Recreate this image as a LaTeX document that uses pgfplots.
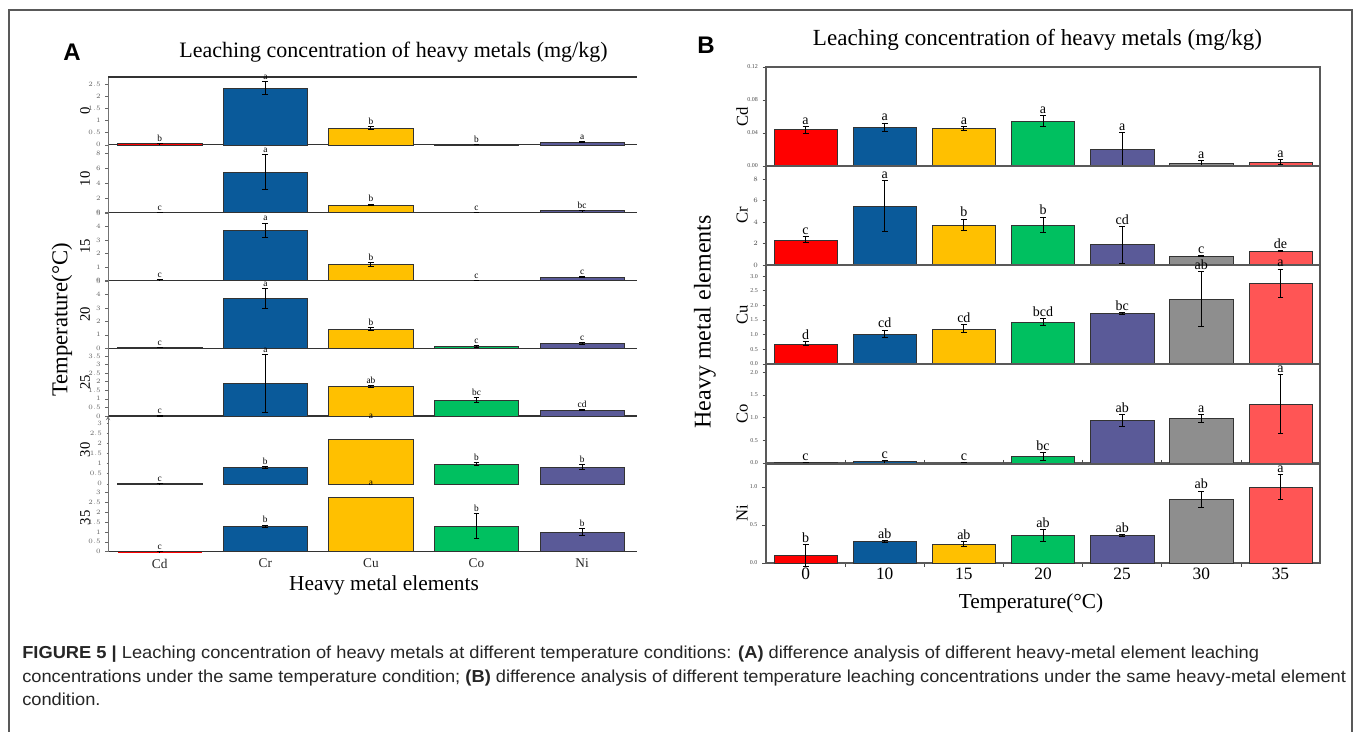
\documentclass[border=0pt]{standalone}
\usepackage{pgfplots}
\pgfplotsset{compat=1.18}
\usepackage{fontspec}
\setmainfont{Liberation Serif}
\newfontfamily\capfont[FakeStretch=1.055]{Liberation Sans}
\newfontfamily\lblfont{Liberation Sans}
\definecolor{cR}{HTML}{FF0000}
\definecolor{cB}{HTML}{0A5A9A}
\definecolor{cY}{HTML}{FFC000}
\definecolor{cG}{HTML}{00C060}
\definecolor{cP}{HTML}{5A5A98}
\definecolor{cGr}{HTML}{8E8E8E}
\definecolor{cLR}{HTML}{FF5555}
\def\letfont{\fontsize{10}{10}\selectfont}
% bar with error bar and letter: colour, x, y, error, letter
\newcommand{\bb}[5]{%
\addplot[ybar, bar shift=0pt, bar width=0.8, fill=#1, draw=black!80, line width=0.4pt, forget plot,
  error bars/.cd, y dir=both, y explicit, error bar style={line width=0.7pt, black},
  error mark options={rotate=90, line width=0.7pt, mark size=2.2pt, black}] coordinates {(#2,#3) +- (0,#4)};
\node[anchor=south, inner sep=1.3pt, font=\letfont] at (axis cs:#2,{#3+#4}) {#5};}
% bar without visible error bar: colour, x, y, letter height, letter
\newcommand{\bn}[5]{%
\addplot[ybar, bar shift=0pt, bar width=0.8, fill=#1, draw=black!80, line width=0.4pt, forget plot] coordinates {(#2,#3)};
\node[anchor=south, inner sep=1.3pt, font=\letfont] at (axis cs:#2,#4) {#5};}
\pgfplotsset{
 Bsub/.style={scale only axis, width=415.5pt, height=74.25pt, xmin=-0.5, xmax=6.5, ymin=0,
   anchor=south west, axis line style={black!65, line width=0.9pt}, xtick=\empty,
   tick align=outside, ytick pos=left, major tick length=2.5pt,
   tick style={black!70, line width=0.5pt},
   yticklabel style={font=\fontsize{4.5}{5}\selectfont, text=black!70},
   ylabel style={at={(axis description cs:-0.043,0.5)}, anchor=center, font=\fontsize{12.5}{13}\selectfont},
   clip=false},
 Asub/.style={scale only axis, width=396.75pt, height=50.85pt, xmin=-0.49, xmax=4.52, ymin=0,
   anchor=south west, axis x line=bottom, axis y line=left,
   x axis line style={-, black!80, line width=0.8pt}, y axis line style={-, black!55, line width=0.4pt},
   xtick=\empty, tick align=outside, major tick length=2pt, tick style={black!60, line width=0.4pt},
   yticklabel style={font=\fontsize{3.5}{4}\selectfont, text=black!60},
   ylabel style={at={(axis description cs:-0.0435,0.5)}, anchor=center, font=\fontsize{11}{12}\selectfont},
   clip=false},
}
\begin{document}
\begin{tikzpicture}[x=1pt,y=1pt]
\useasboundingbox (0,0) rectangle (1016.25,548.25);
\fill[white] (0,0) rectangle (1016.25,548.25);
\draw[black!65, line width=1.1pt] (6.75,-2) -- (6.75,540.75) -- (1014,540.75) -- (1014,-2);

% ---------------- Panel A ----------------
\node[font=\lblfont\bfseries\fontsize{18}{18}\selectfont] at (54,509.25) {A};
\node[font=\fontsize{16.5}{17}\selectfont] at (295.1,509.25) {Leaching concentration of heavy metals (mg/kg)};
\node[font=\fontsize{16}{17}\selectfont] at (288,109.5) {Heavy metal elements};
\node[font=\fontsize{17}{18}\selectfont, rotate=90] at (46.5,308.25) {Temperature(°C)};

\def\letfont{\fontsize{7}{7}\selectfont}
% 0 C
\begin{axis}[Asub, at={(81pt,439.65pt)}, ymax=2.8, ytick={0,0.5,1,1.5,2,2.5}, ylabel={0}]
\draw[black!80, line width=0.8pt] (rel axis cs:0,1) -- (rel axis cs:1,1);
\bb{cR}{0}{0.044}{0.004}{b}
\bb{cB}{1}{2.34}{0.28}{a}
\bb{cY}{2}{0.69}{0.07}{b}
\bb{cG}{3}{0.015}{0.01}{b}
\bb{cP}{4}{0.10}{0.02}{a}
\end{axis}
% 10 C
\begin{axis}[Asub, at={(81pt,388.8pt)}, ymax=9.2, ytick={0,2,4,6,8}, ylabel={10}]
\bb{cR}{0}{0.047}{0.005}{c}
\bb{cB}{1}{5.5}{2.35}{a}
\bb{cY}{2}{1.03}{0.13}{b}
\bb{cG}{3}{0.03}{0.03}{c}
\bb{cP}{4}{0.28}{0.01}{bc}
\end{axis}
% 15 C
\begin{axis}[Asub, at={(81pt,337.95pt)}, ymax=5.05, ytick={0,1,2,3,4,5}, ylabel={15}]
\bb{cR}{0}{0.046}{0.003}{c}
\bb{cB}{1}{3.72}{0.55}{a}
\bb{cY}{2}{1.2}{0.14}{b}
\bb{cG}{3}{0.005}{0.003}{c}
\bb{cP}{4}{0.25}{0.03}{c}
\end{axis}
% 20 C
\begin{axis}[Asub, at={(81pt,287.1pt)}, ymax=5.05, ytick={0,1,2,3,4,5}, ylabel={20}]
\bb{cGr}{0}{0.055}{0.007}{c}
\bb{cB}{1}{3.72}{0.74}{a}
\bb{cY}{2}{1.44}{0.11}{b}
\bb{cG}{3}{0.14}{0.09}{c}
\bb{cP}{4}{0.36}{0.075}{c}
\end{axis}
% 25 C
\begin{axis}[Asub, at={(81pt,236.25pt)}, ymax=3.95, ytick={0,0.5,1,1.5,2,2.5,3,3.5}, ylabel={25}]
\bb{cR}{0}{0.021}{0.02}{c}
\bb{cB}{1}{1.88}{1.7}{a}
\bb{cY}{2}{1.72}{0.035}{ab}
\bb{cG}{3}{0.94}{0.13}{bc}
\bb{cP}{4}{0.36}{0.01}{cd}
\end{axis}
% 30 C
\begin{axis}[Asub, at={(81pt,185.4pt)}, ymax=3.38, ytick={0,0.5,1,1.5,2,2.5,3}, ylabel={30}, axis x line=none, axis y line=left]
\bb{cR}{0}{0.003}{0.003}{c}
\bb{cB}{1}{0.8}{0.05}{b}
\bn{cY}{2}{2.22}{3.16}{a}
\bb{cG}{3}{0.98}{0.09}{b}
\bb{cP}{4}{0.84}{0.105}{b}
\end{axis}
% 35 C
\begin{axis}[Asub, at={(81pt,134.55pt)}, ymax=3.45, ytick={0,0.5,1,1.5,2,2.5,3}, ylabel={35},
  xtick={0,1,2,3,4}, xticklabels={Cd,Cr,Cu,Co,Ni}, xtick style={draw=none},
  xticklabel style={font=\fontsize{10}{11}\selectfont, text=black!85}]
\bb{cR}{0}{0.004}{0.003}{c}
\bb{cB}{1}{1.3}{0.05}{b}
\bn{cY}{2}{2.76}{3.24}{a}
\bb{cG}{3}{1.3}{0.65}{b}
\bb{cP}{4}{1.0}{0.16}{b}
\end{axis}

% ---------------- Panel B ----------------
\node[font=\lblfont\bfseries\fontsize{18}{18}\selectfont] at (529.5,514.5) {B};
\node[font=\fontsize{17.3}{18}\selectfont] at (778.1,518.25) {Leaching concentration of heavy metals (mg/kg)};
\node[font=\fontsize{16}{17}\selectfont] at (773.25,96) {Temperature(°C)};
\node[font=\fontsize{18}{19}\selectfont, rotate=90] at (528.75,306.75) {Heavy metal elements};

\def\letfont{\fontsize{10.5}{11}\selectfont}
% Cd
\begin{axis}[Bsub, at={(574.5pt,423.75pt)}, ymax=0.12, ytick={0,0.04,0.08,0.12},
  yticklabels={0.00,0.04,0.08,0.12}, ylabel={Cd}]
\bb{cR}{0}{0.044}{0.004}{a}
\bb{cB}{1}{0.047}{0.005}{a}
\bb{cY}{2}{0.0457}{0.0026}{a}
\bb{cG}{3}{0.0545}{0.007}{a}
\bb{cP}{4}{0.0206}{0.02}{a}
\bb{cGr}{5}{0.0032}{0.003}{a}
\bb{cLR}{6}{0.0044}{0.003}{a}
\end{axis}
% Cr
\begin{axis}[Bsub, at={(574.5pt,349.5pt)}, ymax=9.2, ytick={0,2,4,6,8}, ylabel={Cr}]
\bb{cR}{0}{2.34}{0.28}{c}
\bb{cB}{1}{5.5}{2.35}{a}
\bb{cY}{2}{3.72}{0.55}{b}
\bb{cG}{3}{3.72}{0.74}{b}
\bb{cP}{4}{1.88}{1.7}{cd}
\bb{cGr}{5}{0.8}{0.05}{c}
\bb{cLR}{6}{1.3}{0.05}{de}
\end{axis}
% Cu
\begin{axis}[Bsub, at={(574.5pt,275.25pt)}, ymax=3.38, ytick={0,0.5,1,1.5,2,2.5,3},
  yticklabels={0.0,0.5,1.0,1.5,2.0,2.5,3.0}, ylabel={Cu}]
\bb{cR}{0}{0.69}{0.07}{d}
\bb{cB}{1}{1.03}{0.13}{cd}
\bb{cY}{2}{1.2}{0.14}{cd}
\bb{cG}{3}{1.44}{0.11}{bcd}
\bb{cP}{4}{1.72}{0.035}{bc}
\bb{cGr}{5}{2.22}{0.94}{ab}
\bb{cLR}{6}{2.76}{0.48}{a}
\end{axis}
% Co
\begin{axis}[Bsub, at={(574.5pt,201pt)}, ymax=2.18, ytick={0,0.5,1,1.5,2},
  yticklabels={0.0,0.5,1.0,1.5,2.0}, ylabel={Co}]
\bb{cR}{0}{0.015}{0.0}{c}
\bb{cB}{1}{0.03}{0.03}{c}
\bb{cY}{2}{0.005}{0.0}{c}
\bb{cG}{3}{0.14}{0.09}{bc}
\bb{cP}{4}{0.94}{0.13}{ab}
\bb{cGr}{5}{0.98}{0.09}{a}
\bb{cLR}{6}{1.3}{0.65}{a}
\end{axis}
% Ni
\begin{axis}[Bsub, at={(574.5pt,126pt)}, ymax=1.30, ytick={0,0.5,1},
  yticklabels={0.0,0.5,1.0}, ylabel={Ni}, major tick length=3pt,
  xtick={0.5,1.5,2.5,3.5,4.5,5.5}, xticklabels={},
  extra x ticks={0,1,2,3,4,5,6}, extra x tick labels={0,10,15,20,25,30,35},
  extra x tick style={major tick length=0pt, xticklabel style={font=\fontsize{13}{14}\selectfont}}]
\bb{cR}{0}{0.10}{0.14}{b}
\bb{cB}{1}{0.28}{0.01}{ab}
\bb{cY}{2}{0.25}{0.03}{ab}
\bb{cG}{3}{0.36}{0.075}{ab}
\bb{cP}{4}{0.36}{0.01}{ab}
\bb{cGr}{5}{0.84}{0.105}{ab}
\bb{cLR}{6}{1.0}{0.16}{a}
\end{axis}

% ---------------- Caption ----------------
\begin{scope}[every node/.style={anchor=base west, inner sep=0pt, text=black!85,
   font=\capfont\fontsize{13}{14}\selectfont}]
\node at (16.5,54.5) {\textbf{FIGURE 5 |} Leaching concentration of heavy metals at different temperature conditions: \textbf{(A)} difference analysis of different heavy-metal element leaching};
\node at (16.5,36.5) {concentrations under the same temperature condition; \textbf{(B)} difference analysis of different temperature leaching concentrations under the same heavy-metal element};
\node at (16.5,19.25) {condition.};
\end{scope}
\end{tikzpicture}
\end{document}
